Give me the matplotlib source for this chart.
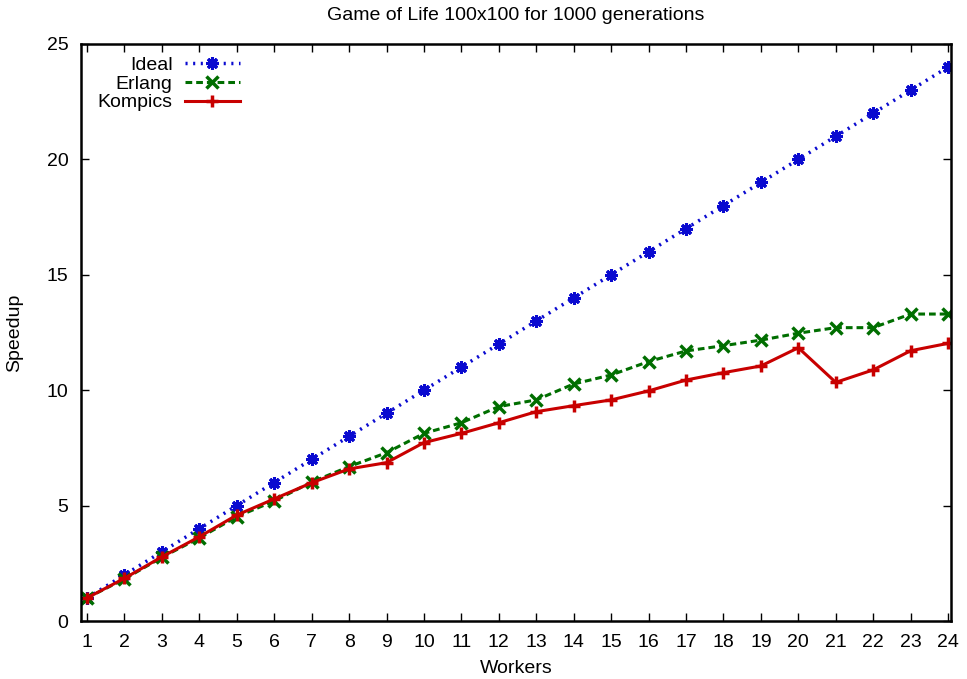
import numpy as np
import matplotlib.pyplot as plt
import matplotlib

matplotlib.rcParams['font.family'] = ['Liberation Sans', 'DejaVu Sans']

# workers 1..24
workers = np.arange(1, 25)

# speedup values
ideal = np.arange(1, 25)
erlang = [1.0, 1.82, 2.76, 3.6, 4.52, 5.2, 6.02, 6.69, 7.29, 8.13, 8.59, 9.29,
          9.58, 10.27, 10.66, 11.24, 11.70, 11.93, 12.17, 12.47, 12.71, 12.71, 13.3, 13.3]
kompics = [1.0, 1.85, 2.78, 3.65, 4.59, 5.29, 5.99, 6.59, 6.86, 7.73, 8.13, 8.59,
           9.07, 9.33, 9.58, 9.97, 10.44, 10.76, 11.05, 11.84, 10.34, 10.88, 11.71, 12.03]

fig = plt.figure(figsize=(9.67, 6.79), dpi=100)
ax = fig.add_axes([0.0838, 0.0854, 0.8997, 0.8498])

# 绘制三条曲线
ax.plot(workers, ideal, color='#0a0ad0', linestyle=(0, (0.6, 1.6)), linewidth=2.5,
        marker=(8, 2, 0), markersize=9, markeredgewidth=2.2, label='Ideal')
ax.plot(workers, erlang, color='#006e00', linestyle=(0, (2.2, 1.3)), linewidth=2.2,
        marker='x', markersize=8, markeredgewidth=2.5, label='Erlang')
ax.plot(workers, kompics, color='#c80000', linestyle='-', linewidth=2.2,
        marker='+', markersize=9, markeredgewidth=2.5, label='Kompics')

ax.set_xlim(0.84, 24.08)
ax.set_ylim(0, 25)
ax.set_xticks(workers)
ax.set_yticks([0, 5, 10, 15, 20, 25])
ax.tick_params(direction='in', length=6, width=1, top=True, right=True,
               labelsize=14, pad=9)
for s in ax.spines.values():
    s.set_linewidth(1.8)

ax.set_xlabel('Workers', fontsize=14, labelpad=7)
ax.set_ylabel('Speedup', fontsize=14, labelpad=17)
ax.set_title('Game of Life 100x100 for 1000 generations', fontsize=14, pad=17)

ax.legend(loc='upper right', frameon=False, markerfirst=False, fontsize=14,
          handlelength=2.85, handletextpad=0.62, labelspacing=0.05,
          borderpad=0, borderaxespad=0, bbox_to_anchor=(0.1828, 0.978))

fig.savefig('out.png', dpi=100)
